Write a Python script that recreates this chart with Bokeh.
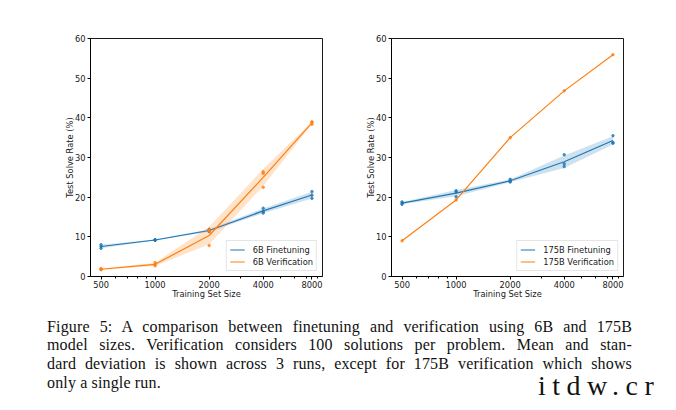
import numpy as np
from bokeh.plotting import figure
from bokeh.models import FixedTicker, Range1d, Div
from bokeh.layouts import column, row
from bokeh.embed import file_html
from bokeh.resources import INLINE

# ---------------- data ----------------
sizes = [500, 1000, 2000, 4000, 7473]
tick_labels = ["500", "1000", "2000", "4000", "8000"]
minor_x = [600, 700, 800, 900, 3000, 5000, 6000, 7000, 8000]
y_ticks = [0, 10, 20, 30, 40, 50, 60]

ft6b_runs = [[7.1, 7.6, 8.0], [9.1, 9.2, 9.3], [11.3, 11.6, 11.9],
             [16.0, 16.4, 17.2], [19.7, 20.5, 21.4]]
ver6b_runs = [[1.7, 1.8, 2.0], [2.7, 3.0, 3.5], [7.8, 11.5, 11.7],
              [22.5, 26.0, 26.4], [38.4, 38.8, 39.0]]
ft175_runs = [[18.2, 18.5, 18.8], [20.1, 21.3, 21.6], [23.8, 24.1, 24.5],
              [27.7, 28.4, 30.7], [33.6, 33.8, 35.5]]
ver175_runs = [[9.0], [19.3], [35.0], [46.8], [55.9]]

labels_left = ["6B Finetuning", "6B Verification"]
labels_right = ["175B Finetuning", "175B Verification"]

caption_lines = [
    "Figure 5: A comparison between finetuning and verification using 6B and 175B",
    "model sizes. Verification considers 100 solutions per problem. Mean and stan-",
    "dard deviation is shown across 3 runs, except for 175B verification which shows",
    "only a single run.",
]
watermark = "itdw.cr"

BLUE = "#1f77b4"
ORANGE = "#ff7f0e"
FONT = "DejaVu Sans"
FS = "8.3px"

span = np.log10(sizes[-1] / sizes[0])
x_start = 10 ** (np.log10(sizes[0]) - 0.05 * span)
x_end = 10 ** (np.log10(sizes[-1]) + 0.05 * span)


def make_fig(width, bl, br, series, labels):
    p = figure(width=width, height=310, x_axis_type="log",
               x_range=Range1d(x_start, x_end), y_range=Range1d(0, 60),
               output_backend="svg", toolbar_location=None,
               min_border_left=bl, min_border_right=br,
               min_border_top=38, min_border_bottom=34)
    p.grid.visible = False
    p.outline_line_color = "black"
    p.outline_line_width = 0.9
    p.background_fill_color = "white"
    p.border_fill_color = "white"

    xs = np.array(sizes, dtype=float)
    for (runs, color), lab in zip(series, labels):
        arr = [np.array(r, dtype=float) for r in runs]
        mean = np.array([a.mean() for a in arr])
        if len(arr[0]) > 1:
            sd = np.array([a.std(ddof=1) for a in arr])
            p.varea(x=xs, y1=mean - sd, y2=mean + sd, fill_color=color,
                    fill_alpha=0.22)
        p.line(xs, mean, line_color=color, line_width=1.2, legend_label=lab)
        px = np.concatenate([[s] * len(a) for s, a in zip(sizes, arr)])
        py = np.concatenate(arr)
        p.scatter(px, py, size=2.5, fill_color=color, line_color=color,
                  fill_alpha=0.75, line_alpha=0.75)

    p.xaxis.ticker = FixedTicker(ticks=sizes, minor_ticks=minor_x)
    p.xaxis.major_label_overrides = {s: t for s, t in zip(sizes, tick_labels)}
    p.yaxis.ticker = FixedTicker(ticks=y_ticks)
    p.xaxis.axis_label = "Training Set Size"
    p.yaxis.axis_label = "Test Solve Rate (%)"
    for ax in (p.xaxis[0], p.yaxis[0]):
        ax.axis_line_color = "black"
        ax.axis_line_width = 0.9
        ax.major_tick_line_color = "black"
        ax.minor_tick_line_color = "black"
        ax.major_tick_out = 3
        ax.major_tick_in = 0
        ax.minor_tick_out = 2
        ax.minor_tick_in = 0
        ax.major_label_text_font = FONT
        ax.major_label_text_font_size = FS
        ax.major_label_text_color = "#1a1a1a"
        ax.axis_label_text_font = FONT
        ax.axis_label_text_font_size = FS
        ax.axis_label_text_font_style = "normal"
        ax.axis_label_text_color = "#1a1a1a"
    p.xaxis.major_label_standoff = 1
    p.xaxis.axis_label_standoff = -2
    p.yaxis.major_label_standoff = 2
    p.yaxis.axis_label_standoff = -3
    p.yaxis.minor_tick_line_color = None

    lg = p.legend[0]
    lg.location = "bottom_right"
    lg.margin = 5
    lg.padding = 3
    lg.spacing = 1
    lg.border_line_color = "#cccccc"
    lg.border_line_width = 1
    lg.background_fill_alpha = 0.85
    lg.label_text_font = FONT
    lg.label_text_font_size = FS
    lg.label_text_color = "#1a1a1a"
    lg.glyph_width = 15
    lg.glyph_height = 11
    lg.label_height = 11
    lg.label_standoff = 8
    return p


p1 = make_fig(356, 90, 34, [(ft6b_runs, BLUE), (ver6b_runs, ORANGE)], labels_left)
p2 = make_fig(312, 35, 45, [(ft175_runs, BLUE), (ver175_runs, ORANGE)], labels_right)

line_style = ("text-align:justify; text-align-last:justify; white-space:nowrap; "
              "height:18.7px; line-height:18.7px;")
html = '<div style="position:relative; width:668px; height:100px;">'
html += ('<div style="position:absolute; left:47px; top:7.6px; width:585px; '
         'font-family:\'Liberation Serif\'; font-size:16px; letter-spacing:0.15px; '
         'color:#111;">')
for i, ln in enumerate(caption_lines):
    if i < len(caption_lines) - 1:
        html += f'<div style="{line_style}">{ln}</div>'
    else:
        html += f'<div style="text-align:left; height:18.7px; line-height:18.7px;">{ln}</div>'
html += '</div>'
html += ('<div style="position:absolute; left:538px; top:64.5px; '
         'font-family:\'Liberation Serif\'; font-size:28px; line-height:22px; '
         f'letter-spacing:6.5px; color:#111;">{watermark}</div>')
html += '</div>'

cap = Div(text=html, width=668, height=100, margin=0)

layout = column(row(p1, p2, spacing=0), cap, spacing=0)

with open("out.html", "w") as f:
    f.write(file_html(layout, INLINE))
